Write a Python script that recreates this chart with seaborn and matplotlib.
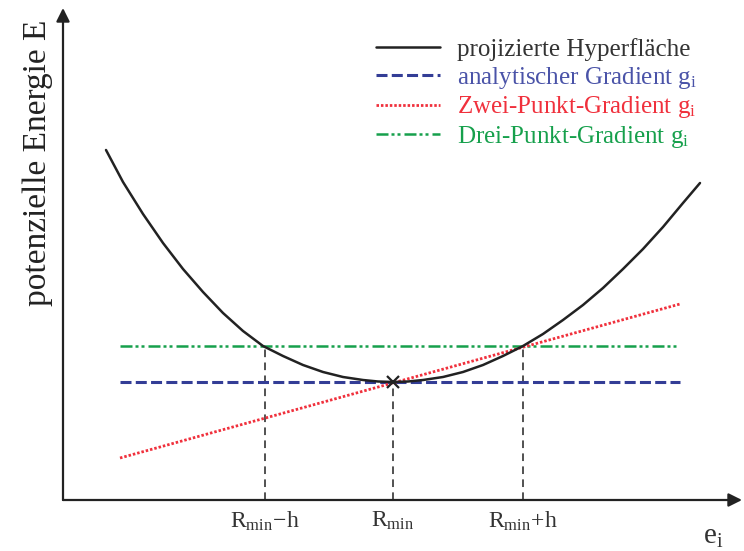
import seaborn as sns
import numpy as np
import matplotlib.pyplot as plt
from matplotlib.lines import Line2D

# Werte (Einheiten ~ Pixel ab Achsenursprung)
kurve_x = [43, 60, 80, 100, 120, 140, 160, 180, 200, 220, 240, 260, 280, 300, 315, 330,
           345, 360, 380, 400, 420, 440, 460, 480, 500, 520, 540, 560, 580, 600, 620, 637]
kurve_y = [350, 318, 286, 257, 231, 208, 187, 169, 154, 144, 135, 128, 123, 120, 118.5, 118,
           118.5, 120, 123, 128, 135, 144, 154, 166, 180, 195, 212, 231, 251, 273, 297, 317]

grad_x = [57, 617]
analytisch_y = [118, 118]
zwei_punkt_y = [42, 196]
drei_punkt_y = [154, 154]

stellen_x = [202, 330, 460]
stellen_E = [154, 118, 154]
stellen_labels = [r'$\mathrm{R_{min}\!-\!h}$', r'$\mathrm{R_{min}}$', r'$\mathrm{R_{min}\!+\!h}$']

legende = ['projizierte Hyperfläche',
           r'analytischer Gradient $\mathrm{g_i}$',
           r'Zwei-Punkt-Gradient $\mathrm{g_i}$',
           r'Drei-Punkt-Gradient $\mathrm{g_i}$']

schwarz = '#222222'
blau = '#333d96'
rot = '#f0303c'
gruen = '#16a04c'

sns.set_style('white')
plt.rcParams['font.family'] = ['Liberation Serif', 'DejaVu Serif']
plt.rcParams['mathtext.fontset'] = 'custom'
plt.rcParams['mathtext.rm'] = 'Liberation Serif'
plt.rcParams['mathtext.it'] = 'Liberation Serif:italic'

fig = plt.figure(figsize=(7.44, 5.51), dpi=100)
ax = fig.add_axes([63 / 744, 51 / 551, 679 / 744, 492 / 551])
ax.set_xlim(0, 679)
ax.set_ylim(0, 492)
for s in ax.spines.values():
    s.set_visible(False)

# Hilfslinien
for x, e in zip(stellen_x, stellen_E):
    l = ax.plot([x, x], [0, e], color=schwarz, lw=1.1)[0]
    l.set_dashes((5, 3.5))

# Gradienten
l = sns.lineplot(x=grad_x, y=analytisch_y, ax=ax, color=blau, lw=2.2).lines[-1]
l.set_dashes((3.6, 1.4))
l = sns.lineplot(x=grad_x, y=drei_punkt_y, ax=ax, color=gruen, lw=1.8).lines[-1]
l.set_dashes((4.8, 1.2, 1.2, 1.2, 1.2, 1.6))
l = sns.lineplot(x=grad_x, y=zwei_punkt_y, ax=ax, color=rot, lw=2.0).lines[-1]
l.set_dashes((0.9, 0.7))

# Hyperfläche
sns.lineplot(x=kurve_x, y=kurve_y, ax=ax, sort=False, color=schwarz, lw=1.8)
ax.plot([stellen_x[1]], [stellen_E[1]], marker='x', color=schwarz, ms=9, mew=1.6)

# Achsen mit Pfeilen
pfeil = dict(arrowstyle='-|>', color=schwarz, lw=1.6, mutation_scale=20,
             shrinkA=0, shrinkB=0)
ax.annotate('', xy=(1, 0), xytext=(0, 0), xycoords='axes fraction', arrowprops=pfeil)
ax.annotate('', xy=(0, 1), xytext=(0, 0), xycoords='axes fraction', arrowprops=pfeil)

ax.set_xticks(stellen_x, stellen_labels, fontsize=17, color='#333333')
ax.tick_params(axis='x', length=0, pad=7)
ax.set_yticks([])

ax.text(-0.037, 0.685, 'potenzielle Energie E', rotation=90, ha='center', va='center',
        fontsize=24, color=schwarz, transform=ax.transAxes)
ax.text(650, -37, r'$\mathrm{e_i}$', fontsize=21, color='#333333', ha='center',
        va='center', clip_on=False)

# Legende
griffe = [Line2D([], [], color=schwarz, lw=1.8),
          Line2D([], [], color=blau, lw=2.2, dashes=(3.6, 1.4)),
          Line2D([], [], color=rot, lw=2.0, dashes=(0.9, 0.7)),
          Line2D([], [], color=gruen, lw=1.8, dashes=(4.8, 1.2, 1.2, 1.2, 1.2, 1.6))]
ax.legend(griffe, legende, loc='upper left', bbox_to_anchor=(376 / 744, 1 - 38 / 551),
          bbox_transform=fig.transFigure, frameon=False, fontsize=18,
          handlelength=2.55, handletextpad=0.68, labelspacing=0.15,
          labelcolor=['#333333', '#4a53a8', rot, gruen], borderpad=0, borderaxespad=0)

fig.savefig('out.png', dpi=100)
